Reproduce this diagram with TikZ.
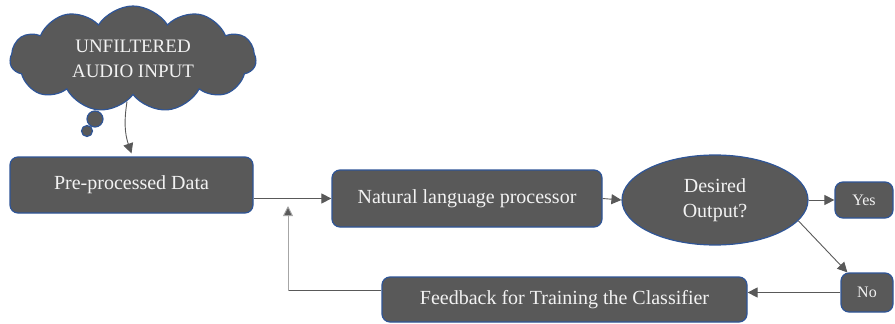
\documentclass[tikz,border=0pt]{standalone}
\usepackage{fontspec}
\setmainfont{Liberation Serif}
\usetikzlibrary{
    arrows.meta,
    shapes,
    shapes.symbols,
    calc,
    positioning
}
\definecolor{boxgray}{HTML}{595959}
\definecolor{rimblue}{HTML}{2F5597}
\definecolor{lightline}{HTML}{A6A6A6}
\tikzset{procbox/.style={draw=rimblue, fill=boxgray, line width=1.2pt, rounded corners=8pt, text=white!95!black, font=\fontsize{20}{22}\selectfont, inner sep=0pt}}
\tikzset{ansbox/.style={procbox, font=\fontsize{16}{18}\selectfont}}
\tikzset{arr/.style={draw=boxgray, line width=0.9pt, -{Triangle[length=10pt, width=10pt]}}}

\begin{document}
\begin{tikzpicture}[x=1pt, y=-1pt]
                        \useasboundingbox (0, 0) rectangle (895, 324);
                        \node[draw=rimblue, fill=boxgray, line width=1.2pt, cloud, cloud puffs=11, cloud puff arc=115, aspect=2.4, minimum width=246pt, minimum height=106pt, text=white!95!black, align=center, font=\fontsize{19}{25}\selectfont] (cloud) at (133, 59) {UNFILTERED\\AUDIO INPUT};
                        \node[draw=rimblue, fill=boxgray, line width=1.2pt, circle, minimum size=16pt, inner sep=0pt] (bub1) at (95, 119) {};
                        \node[draw=rimblue, fill=boxgray, line width=1.2pt, circle, minimum size=11pt, inner sep=0pt] (bub2) at (87, 131) {};
                        \node[procbox, minimum width=243pt, minimum height=56pt] (pre) at (131.5, 185) {Pre-processed Data};
                        \node[procbox, minimum width=270pt, minimum height=57pt] (nlp) at (467, 198.5) {Natural language processor};
                        \node[draw=rimblue, fill=boxgray, line width=1.2pt, ellipse, minimum width=186pt, minimum height=90pt, inner sep=0pt, text=white!95!black, align=center, font=\fontsize{20}{25}\selectfont] (dec) at (715, 200) {Desired\\Output?};
                        \node[ansbox, minimum width=58pt, minimum height=36pt] (yes) at (864, 200) {Yes};
                        \node[ansbox, minimum width=52pt, minimum height=39pt] (no) at (867, 292.5) {No};
                        \node[procbox, minimum width=365pt, minimum height=45pt] (fb) at (564.5, 299.5) {Feedback for Training the Classifier};
                        \coordinate (join) at (288, 206);
                        \draw[arr] (cloud.262) to[bend right=14] ([yshift=3pt]pre.north);
                        \draw[arr] (pre.east |- nlp.west) -- (nlp.west);
                        \draw[arr] (nlp.east) -- (dec.west);
                        \draw[arr] (dec.east) -- (yes.west);
                        \draw[arr] (dec.-14) -- ([xshift=7pt]no.north west);
                        \draw[arr] (no.west) -- (no.west -| fb.east);
                        \draw[boxgray, line width=0.9pt] ([yshift=9pt]fb.west) -- ([yshift=9pt]fb.west -| join);
                        \draw[arr, draw=lightline, -{Triangle[length=10pt, width=10pt, fill=boxgray]}] ([yshift=9pt]fb.west -| join) -- (join);
                    \end{tikzpicture}
\end{document}
